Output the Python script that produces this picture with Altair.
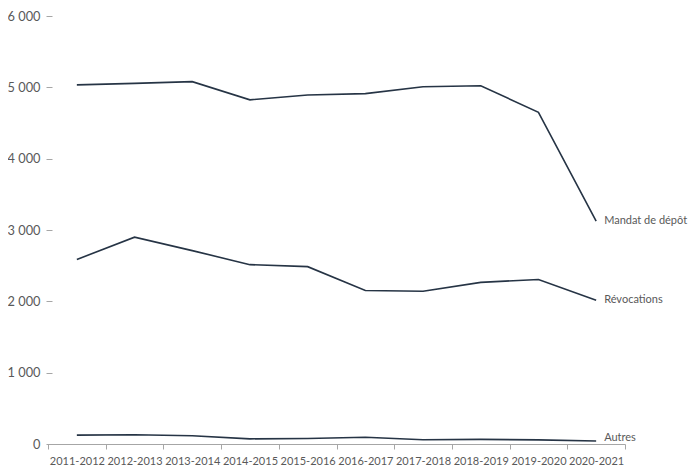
import altair as alt
import pandas as pd

years = ["2011-2012", "2012-2013", "2013-2014", "2014-2015", "2015-2016",
         "2016-2017", "2017-2018", "2018-2019", "2019-2020", "2020-2021"]
mandat = [5035, 5055, 5080, 4825, 4893, 4912, 5008, 5022, 4650, 3124]
revocations = [2587, 2899, 2711, 2514, 2486, 2151, 2142, 2266, 2307, 2015]
autres = [124, 130, 115, 72, 78, 95, 60, 65, 58, 42]
series = ["Mandat de dépôt", "Révocations", "Autres"]

rows = []
for name, vals in zip(series, [mandat, revocations, autres]):
    for y, v in zip(years, vals):
        rows.append({"annee": y, "valeur": v, "serie": name})
df = pd.DataFrame(rows)

LINE = "#263445"
GREY = "#595959"
FONT = "Lato"

x = alt.X("annee:N", sort=years, title=None,
          scale=alt.Scale(paddingInner=0, paddingOuter=0),
          axis=alt.Axis(tickBand="extent", labelAngle=0, labelFont=FONT,
                        labelFontSize=11, labelColor=GREY, labelOverlap=False,
                        domainColor="#a6a6a6", tickColor="#a6a6a6", tickSize=5,
                        labelPadding=6, domainWidth=1.2))
y = alt.Y("valeur:Q", title=None,
          scale=alt.Scale(domain=[0, 6000], nice=False),
          axis=alt.Axis(values=[0, 1000, 2000, 3000, 4000, 5000, 6000],
                        grid=False, domain=False, tickSize=6, offset=-4,
                        tickColor="#a6a6a6", labelFont=FONT, labelFontSize=12.8,
                        labelColor=GREY, labelPadding=6,
                        labelExpr="replace(format(datum.value, ','), ',', ' ')"))

lines = alt.Chart(df).mark_line(color=LINE, strokeWidth=1.6).encode(
    x=x, y=y, detail="serie:N")

base_lab = alt.Chart(df).transform_filter(alt.datum.annee == years[-1])
enc = dict(x=alt.X("annee:N", sort=years), y=alt.Y("valeur:Q"), text="serie:N")

labels_top = base_lab.transform_filter(alt.datum.serie != "Autres").mark_text(
    align="left", baseline="middle", dx=8, font=FONT, fontSize=11, color=GREY
).encode(**enc)
labels_bottom = base_lab.transform_filter(alt.datum.serie == "Autres").mark_text(
    align="left", baseline="middle", dx=8, dy=-3, font=FONT, fontSize=11, color=GREY
).encode(**enc)

chart = alt.layer(lines, labels_top, labels_bottom).properties(
    width=577, height=428,
    background="white",
    autosize=alt.AutoSizeParams(type="none"),
    padding={"left": 40, "top": 8, "right": 67, "bottom": 24},
).configure_view(stroke=None)

chart.save("out.html", embed_options={"renderer": "svg", "actions": False})
